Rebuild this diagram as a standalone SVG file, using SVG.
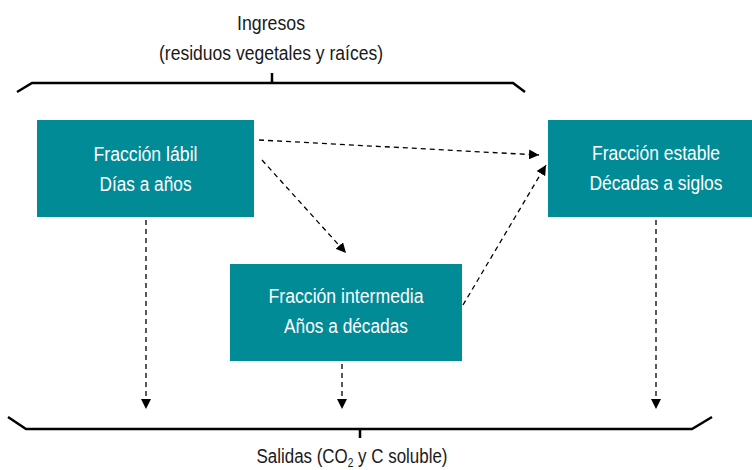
<svg xmlns="http://www.w3.org/2000/svg" width="752" height="470" viewBox="0 0 752 470">
<style>
text{font-family:"Liberation Sans",Arial,sans-serif;font-size:20px;text-anchor:middle}
.box{fill:#008b97}
.bt{fill:#ffffff}
.lbl{fill:#1a1a1a}
.brace{fill:none;stroke:#000;stroke-width:2.5}
.conn{fill:none;stroke:#000;stroke-width:1.3;stroke-dasharray:5,4}
</style>
<defs>
<marker id="ah" viewBox="0 0 10 10" refX="10" refY="5" markerWidth="10" markerHeight="10" markerUnits="userSpaceOnUse" orient="auto">
<path d="M0,0 L10,5 L0,10 z" fill="#000"/>
</marker>
</defs>
<rect width="752" height="470" fill="#fff"/>
<g id="ingresos">
<text class="lbl" x="271" y="30" textLength="68" lengthAdjust="spacingAndGlyphs">Ingresos</text>
<text class="lbl" x="271" y="60" textLength="224" lengthAdjust="spacingAndGlyphs">(residuos vegetales y raíces)</text>
<path class="brace" d="M17,92 L32,83 L513,83 L525,92 M272,73 L272,83"/>
</g>
<g id="salidas">
<path class="brace" d="M8,417 L26,429 L692,429 L712,417 M360,429 L360,438"/>
<text class="lbl" x="352" y="463" textLength="191" lengthAdjust="spacingAndGlyphs">Salidas (CO<tspan font-size="12" dy="4">2</tspan><tspan dy="-4"> y C soluble)</tspan></text>
</g>
<g id="labil">
<rect class="box" x="37" y="120" width="217" height="97"/>
<text class="bt" x="145.5" y="161" textLength="104" lengthAdjust="spacingAndGlyphs">Fracción lábil</text>
<text class="bt" x="145.5" y="191" textLength="92" lengthAdjust="spacingAndGlyphs">Días a años</text>
</g>
<g id="intermedia">
<rect class="box" x="230" y="264" width="232" height="97"/>
<text class="bt" x="346" y="303" textLength="155" lengthAdjust="spacingAndGlyphs">Fracción intermedia</text>
<text class="bt" x="346" y="333" textLength="124" lengthAdjust="spacingAndGlyphs">Años a décadas</text>
</g>
<g id="estable">
<rect class="box" x="548" y="120" width="204" height="97"/>
<text class="bt" x="656" y="160" textLength="128" lengthAdjust="spacingAndGlyphs">Fracción estable</text>
<text class="bt" x="656" y="190" textLength="133" lengthAdjust="spacingAndGlyphs">Décadas a siglos</text>
</g>
<g id="connectors">
<path class="conn" d="M259,140 L539,155" marker-end="url(#ah)"/>
<path class="conn" d="M262,160 L346,253" marker-end="url(#ah)"/>
<path class="conn" d="M463,305 L546,165" marker-end="url(#ah)"/>
<path class="conn" d="M146,220 L146,409" marker-end="url(#ah)"/>
<path class="conn" d="M342,364 L342,409" marker-end="url(#ah)"/>
<path class="conn" d="M656,220 L656,409" marker-end="url(#ah)"/>
</g>
</svg>
